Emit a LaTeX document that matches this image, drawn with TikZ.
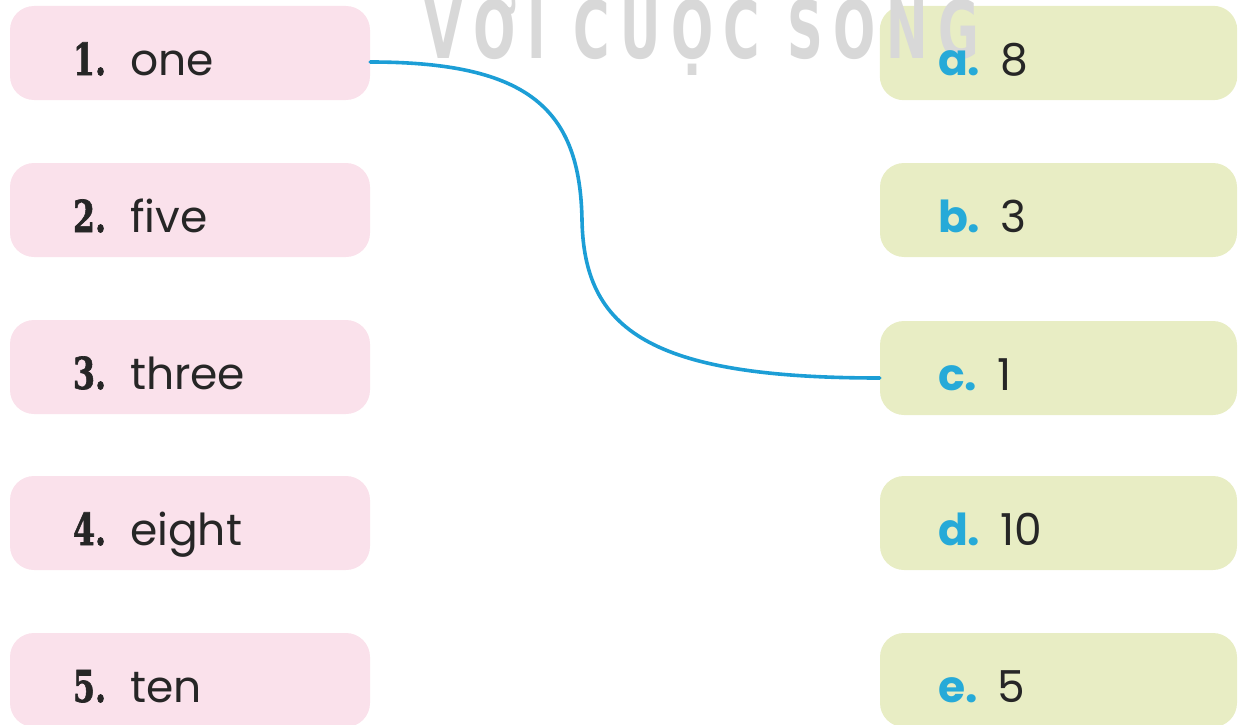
\documentclass[tikz,border=0pt]{standalone}
\usepackage{fontspec}
\usepackage{graphicx}
\usetikzlibrary{calc}
\setmainfont{Poppins}
\newfontfamily\numfont[BoldFeatures={FakeBold=1.6}]{DejaVu Serif}
\newfontfamily\letfont{Poppins}
\newfontfamily\wmfont[LetterSpace=21]{DejaVu Sans}
\definecolor{pinkbox}{RGB}{250,225,235}
\definecolor{greenbox}{RGB}{232,237,196}
\definecolor{cyanlbl}{RGB}{38,170,216}
\definecolor{linkblue}{RGB}{28,158,214}
\definecolor{wmgray}{RGB}{216,216,216}
\pgfdeclarelayer{background}
\pgfsetlayers{background,main}
\tikzset{
  leftbox/.style={fill=pinkbox, draw=none, rounded corners=24pt, minimum height=94pt,
    text width=234pt, inner xsep=63pt, align=left, text height=44pt, text depth=0pt,
    font=\fontsize{44}{44}\selectfont, text=black!85},
  rightbox/.style={fill=greenbox, draw=none, rounded corners=24pt, minimum height=94pt,
    text width=241pt, inner xsep=58pt, align=left, text height=44pt, text depth=0pt,
    font=\fontsize{44}{44}\selectfont, text=black!85},
  link/.style={draw=linkblue, line width=3.6pt, line cap=round},
  watermark/.style={text=wmgray, font=\fontsize{80}{80}\selectfont\wmfont\bfseries, xscale=0.62, inner sep=0pt}
}
\newcommand{\nlab}[1]{\scalebox{0.72}[1]{\numfont\bfseries #1}\hspace{24pt}}
\newcommand{\llab}[1]{{\letfont\bfseries\color{cyanlbl}#1}\hspace{20pt}}
\begin{document}
\begin{tikzpicture}[x=1pt,y=-1pt]
\useasboundingbox (0,0) rectangle (1239,725);
\node[watermark, anchor=base] (wm) at (702,59) {VƠI CUỌC SONG};
\node[leftbox] (n1) at (190,53) {\nlab{1.}one};
\node[leftbox] (n2) at (190,210) {\nlab{2.}five};
\node[leftbox] (n3) at (190,367) {\nlab{3.}three};
\node[leftbox] (n4) at (190,523) {\nlab{4.}eight};
\node[leftbox] (n5) at (190,680) {\nlab{5.}ten};
\node[rightbox, fill=none] (ra) at (1058.5,53) {\llab{a.}8};
\begin{pgfonlayer}{background}
  \fill[greenbox, rounded corners=24pt] (ra.north west) rectangle (ra.south east);
\end{pgfonlayer}
\node[rightbox] (rb) at (1058.5,210) {\llab{b.}3};
\node[rightbox] (rc) at (1058.5,368) {\llab{c.}1};
\node[rightbox] (rd) at (1058.5,523) {\llab{d.}10};
\node[rightbox] (re) at (1058.5,680) {\llab{e.}5};
\coordinate (mid) at (582,220);
\draw[link] ($(n1.east)+(0,9)$) .. controls (530,62) and (580,110) .. (mid)
  .. controls (584,330) and (650,378) .. ($(rc.west)+(0,10)$);
\end{tikzpicture}
\end{document}
